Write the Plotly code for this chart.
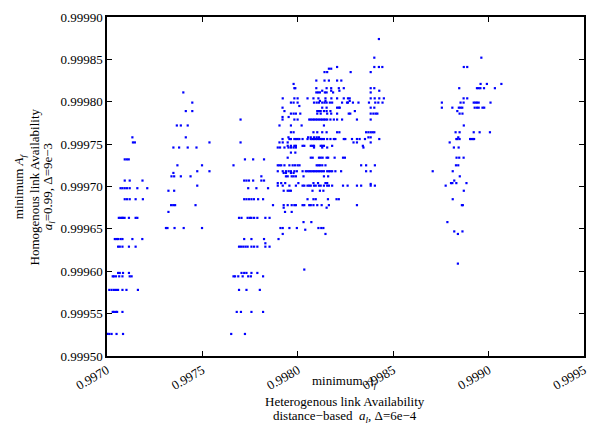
import plotly.graph_objects as go

# Minimum flow availability: homogeneous (rows) versus heterogeneous link availability
levels = [
    0.999874, 0.999852, 0.999841, 0.999839, 0.999835, 0.999825, 0.999821, 0.999816,
    0.999813, 0.999811, 0.999804, 0.999801, 0.999799, 0.999795, 0.999793, 0.999789,
    0.999786, 0.999782, 0.999779, 0.999772, 0.999764, 0.999758, 0.999756, 0.999752,
    0.999748, 0.999746, 0.999740, 0.999734, 0.999732, 0.999725, 0.999718, 0.999716,
    0.999712, 0.999707, 0.999704, 0.999703, 0.999701, 0.999698, 0.999695, 0.999685,
    0.999678, 0.999675, 0.999670, 0.999663, 0.999658, 0.999651, 0.999649, 0.999647,
    0.999644, 0.999638, 0.999633, 0.999629, 0.999609, 0.999602, 0.999598, 0.999594,
    0.999578, 0.999552, 0.999526,
]

points_at_level = [
    [0.998425],
    [0.998401, 0.998962],
    [0.998206, 0.998401, 0.998425, 0.998443, 0.998870, 0.998888],
    [0.998163, 0.998175],
    [0.998140, 0.998154, 0.998277, 0.998382],
    [0.998097, 0.998140, 0.998163, 0.998206, 0.998228],
    [0.997978, 0.998958, 0.998991, 0.999067],
    [0.997982, 0.997987, 0.998097, 0.998151, 0.998175, 0.998215, 0.998241, 0.998382,
     0.998401, 0.998846, 0.998939, 0.998948, 0.998957, 0.998976, 0.999033],
    [0.998128, 0.998175, 0.998218, 0.998427],
    [0.997400, 0.998097, 0.998106, 0.998116, 0.998142, 0.998151, 0.998185, 0.998382],
    [0.997921, 0.997982, 0.997999, 0.998051, 0.998082, 0.998108, 0.998145, 0.998176,
     0.998206, 0.998241, 0.998263, 0.998272, 0.998382, 0.998403, 0.998427, 0.998451,
     0.998869, 0.998888],
    [0.998116, 0.998145, 0.998272],
    [0.997447, 0.997964, 0.997978, 0.997999, 0.998085, 0.998099, 0.998111, 0.998128,
     0.998140, 0.998151, 0.998168, 0.998180, 0.998232, 0.998258, 0.998263, 0.998289,
     0.998318, 0.998373, 0.998406, 0.998422, 0.998444, 0.998755, 0.998853, 0.998869,
     0.998922, 0.998931, 0.998939, 0.998948, 0.999010],
    [0.998008],
    [0.997920, 0.998128, 0.998151, 0.998206, 0.998215, 0.998220, 0.998382, 0.998401,
     0.998755, 0.998810, 0.998844, 0.998853, 0.998862, 0.998927, 0.998939, 0.998948,
     0.998968, 0.998977],
    [0.997413, 0.997447, 0.997930, 0.998102, 0.998111, 0.998120, 0.998137, 0.998151,
     0.998171, 0.998299, 0.998836],
    [0.997964, 0.997978, 0.997990, 0.998013, 0.998102, 0.998120, 0.998154, 0.998175,
     0.998206, 0.998267, 0.998275, 0.998382, 0.998396, 0.998408, 0.998417, 0.998848,
     0.998863],
    [0.997920, 0.997952],
    [0.997700, 0.997920, 0.997982, 0.997999, 0.998060, 0.998068, 0.998077, 0.998085,
     0.998094, 0.998102, 0.998111, 0.998120, 0.998128, 0.998137, 0.998145, 0.998154,
     0.998171, 0.998189, 0.998206, 0.998232, 0.998310, 0.998382],
    [0.997366, 0.997387, 0.997423, 0.997904, 0.997964, 0.998020, 0.998137, 0.998870],
    [0.997964, 0.997978, 0.998082, 0.998102, 0.998128, 0.998151, 0.998206, 0.998218,
     0.998358, 0.998370, 0.998382, 0.998392, 0.998401, 0.998827, 0.998848, 0.998922,
     0.998953, 0.999007],
    [0.997133, 0.997413, 0.997951, 0.998054, 0.998068, 0.998085, 0.998099, 0.998111,
     0.998370, 0.998382, 0.998841],
    [0.997920, 0.997956, 0.997964, 0.997982, 0.997990, 0.997999, 0.998008, 0.998025,
     0.998051, 0.998068, 0.998077, 0.998085, 0.998094, 0.998102, 0.998111, 0.998120,
     0.998128, 0.998137, 0.998154, 0.998171, 0.998189, 0.998197, 0.998241, 0.998249,
     0.998284, 0.998310, 0.998324, 0.998352, 0.998427, 0.998831, 0.998837, 0.998848,
     0.998903, 0.998910, 0.998917, 0.998924],
    [0.997136, 0.997146, 0.997537, 0.997700, 0.997904, 0.997921, 0.997947, 0.998292,
     0.998310, 0.998382, 0.998796],
    [0.997947, 0.997964, 0.997982, 0.997990, 0.998025, 0.998034, 0.998068, 0.998077,
     0.998085, 0.998120, 0.998128, 0.998137, 0.998180, 0.998341],
    [0.997348, 0.997378, 0.997423, 0.997469, 0.997895, 0.997907, 0.997930, 0.997951,
     0.997964, 0.997978, 0.997990, 0.998085, 0.998128, 0.998154, 0.998344, 0.998818,
     0.998843],
    [0.997964, 0.997987],
    [0.997947, 0.998068, 0.998078, 0.998111, 0.998120, 0.998130, 0.998151, 0.998159,
     0.998193, 0.998237, 0.998247, 0.998832, 0.998846, 0.998869],
    [0.997093, 0.997104, 0.997114, 0.997723, 0.997766, 0.997823],
    [0.997369, 0.997498, 0.997663, 0.997895, 0.997904, 0.997913, 0.997930, 0.997956,
     0.997973, 0.997985, 0.997999, 0.998009, 0.998099, 0.998108, 0.998116, 0.998128,
     0.998145, 0.998332, 0.998358, 0.998404, 0.998829, 0.998841],
    [0.997473, 0.997537, 0.997895, 0.997921, 0.997938, 0.997952, 0.997964, 0.997982,
     0.997995, 0.998025, 0.998042, 0.998051, 0.998060, 0.998068, 0.998077, 0.998085,
     0.998094, 0.998102, 0.998111, 0.998120, 0.998128, 0.998137, 0.998154, 0.998163,
     0.998171, 0.998180, 0.998197, 0.998227, 0.998358, 0.998382, 0.998707, 0.998812],
    [0.997348, 0.997926, 0.997938, 0.997964, 0.997978],
    [0.997338, 0.997352, 0.997387, 0.997438, 0.997809, 0.997938, 0.997947, 0.997968,
     0.997978, 0.997990, 0.998030, 0.998137, 0.998159, 0.998849],
    [0.997093, 0.997119, 0.997186, 0.997719, 0.997731, 0.997744, 0.997766, 0.997809,
     0.997823, 0.998820],
    [0.997895, 0.997913, 0.997934, 0.998003, 0.998082, 0.998106, 0.998145, 0.998154,
     0.998803, 0.998810, 0.998831, 0.998884],
    [0.998382],
    [0.997473, 0.997895, 0.997921, 0.997956, 0.997990, 0.998025, 0.998034, 0.998051,
     0.998060, 0.998068, 0.998085, 0.998094, 0.998111, 0.998120, 0.998137, 0.998154,
     0.998163, 0.998180, 0.998237, 0.998261, 0.998310, 0.998332, 0.998382, 0.998404,
     0.998775],
    [0.997071, 0.997081, 0.997093, 0.997105, 0.997119, 0.997159, 0.997211, 0.997740,
     0.997783, 0.997844],
    [0.997322, 0.997352, 0.997926, 0.997947, 0.997956, 0.997964, 0.998077, 0.998116,
     0.998134, 0.998870],
    [0.997093, 0.997105, 0.997119, 0.997150, 0.997188, 0.997719, 0.997731, 0.997744,
     0.997757, 0.997770, 0.997792, 0.997818, 0.998051, 0.998082, 0.998094, 0.998158,
     0.998203, 0.998215, 0.998812],
    [0.997336, 0.997347, 0.997357, 0.997464, 0.997870, 0.997926, 0.997947, 0.997968,
     0.997982, 0.997990, 0.998025, 0.998034, 0.998060, 0.998068, 0.998082, 0.998102,
     0.998125, 0.998163, 0.998310, 0.998860, 0.998865],
    [0.997926, 0.998151],
    [0.997322, 0.997933, 0.997968],
    [0.997062, 0.997071, 0.997078, 0.997084, 0.997092, 0.997115, 0.997150, 0.997159,
     0.997692, 0.997705, 0.997737, 0.997749, 0.997757, 0.997771, 0.997788, 0.997830,
     0.997852],
    [0.998030, 0.998071, 0.998784],
    [0.997309, 0.997317, 0.997354, 0.997402, 0.997498, 0.997909, 0.997921, 0.997956,
     0.997995, 0.998108, 0.998123, 0.998134],
    [0.998039],
    [0.998820, 0.998863],
    [0.997921, 0.998145, 0.998839],
    [0.997041, 0.997050, 0.997058, 0.997071, 0.997081, 0.997133, 0.997185, 0.997719,
     0.997757, 0.997823, 0.997899],
    [0.997830],
    [0.997058, 0.997067, 0.997081, 0.997115, 0.997150, 0.997692, 0.997702, 0.997714,
     0.997726, 0.997737, 0.997757, 0.997771, 0.997788, 0.997830, 0.997852],
    [0.998839],
    [0.998034],
    [0.997058, 0.997067, 0.997084, 0.997115, 0.997705, 0.997719, 0.997731, 0.997757,
     0.997788],
    [0.997030, 0.997036, 0.997047, 0.997064, 0.997081, 0.997119, 0.997129, 0.997663,
     0.997671, 0.997688, 0.997711, 0.997740, 0.997754, 0.997818],
    [0.997012, 0.997024, 0.997036, 0.997047, 0.997058, 0.997081, 0.997102, 0.997162,
     0.997692, 0.997731, 0.997801],
    [0.997030, 0.997036, 0.997047, 0.997053, 0.997081, 0.997680, 0.997702, 0.997757,
     0.997818],
    [0.997002, 0.997012, 0.997024, 0.997050, 0.997084, 0.997651, 0.997723],
]

x_ticks = [0.9970, 0.9975, 0.9980, 0.9985, 0.9990, 0.9995]
y_ticks = [0.99950, 0.99955, 0.99960, 0.99965, 0.99970, 0.99975, 0.99980, 0.99985, 0.99990]

xs, ys = [], []
for lvl, row in zip(levels, points_at_level):
    for v in row:
        xs.append(v)
        ys.append(lvl)

FONT = "Liberation Serif"

fig = go.Figure(go.Scatter(
    x=xs, y=ys, mode="markers",
    marker=dict(color="#0000ff", size=2.2, symbol="square", line=dict(width=0)),
    hoverinfo="skip",
))

axis_common = dict(
    showgrid=False, zeroline=False, showline=True, linecolor="black", linewidth=1.5,
    mirror="ticks", ticks="inside", ticklen=5, tickwidth=1, tickcolor="black",
    tickfont=dict(family=FONT, size=13, color="black"),
)

fig.update_layout(
    width=599, height=432,
    margin=dict(l=107, r=10, t=16, b=76),
    paper_bgcolor="white", plot_bgcolor="white",
    showlegend=False,
    xaxis=dict(range=[0.9970, 0.9995], tickvals=x_ticks,
               ticktext=[f"{v:.4f}" for v in x_ticks], tickangle=-30, **axis_common),
    yaxis=dict(range=[0.99950, 0.99990], tickvals=y_ticks,
               ticktext=[f"{v:.5f}" for v in y_ticks], **axis_common),
)

title_font = dict(family=FONT, size=13, color="black")
x_title_lines = [
    ("minimum <i>A</i><sub><i>f</i></sub>", -0.075),
    ("Heterogenous link Availability", -0.135),
    ("distance\u2212based  <i>a</i><sub><i>l</i></sub>, \u0394=6e\u22124", -0.177),
]
for text, ypos in x_title_lines:
    fig.add_annotation(text=text, xref="paper", yref="paper", x=0.498, y=ypos,
                       xanchor="center", yanchor="middle", showarrow=False,
                       font=title_font)

y_title_lines = [
    ("minimum <i>A</i><sub><i>f</i></sub>", -0.183),
    ("Homogenous link Availability", -0.151),
    ("<i>a</i><sub><i>l</i></sub>=0.99, \u0394=9e\u22123", -0.122),
]
for text, xpos in y_title_lines:
    fig.add_annotation(text=text, xref="paper", yref="paper", x=xpos, y=0.5,
                       xanchor="center", yanchor="middle", showarrow=False,
                       textangle=-90, font=title_font)

fig.write_html("out.html")
